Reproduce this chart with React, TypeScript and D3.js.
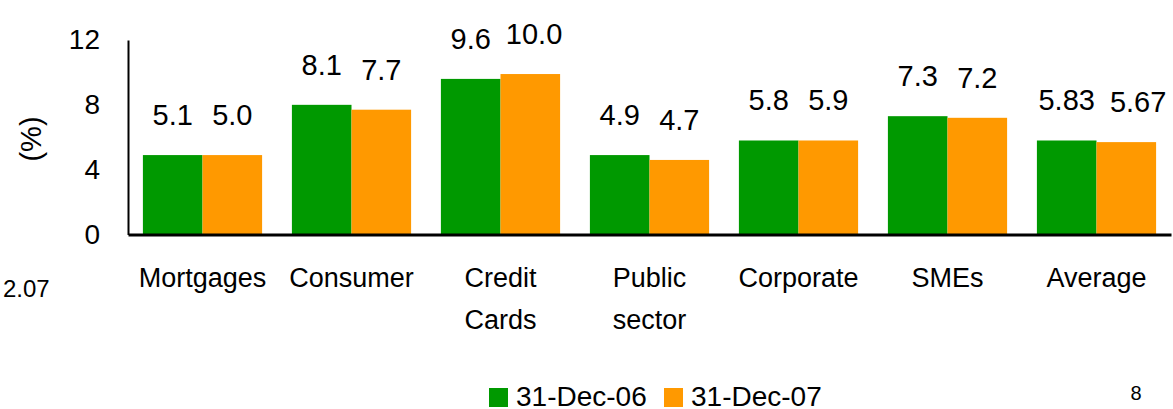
import React, { useEffect, useRef } from "react";
import * as d3 from "d3";

const width = 1173;
const height = 409;
const margin = { top: 40, right: 2, bottom: 174, left: 128 };
const green = "#009900";
const orange = "#ff9900";
const font = "'Liberation Sans', Arial, sans-serif";

// categories (multi-line labels split on \n)
const categories = [
  "Mortgages",
  "Consumer",
  "Credit\nCards",
  "Public\nsector",
  "Corporate",
  "SMEs",
  "Average",
];
// bar heights as drawn
const dec06 = [4.9, 8.0, 9.6, 4.9, 5.8, 7.3, 5.8];
const dec07 = [4.9, 7.7, 9.9, 4.6, 5.8, 7.2, 5.7];
// printed value labels
const dec06Labels = ["5.1", "8.1", "9.6", "4.9", "5.8", "7.3", "5.83"];
const dec07Labels = ["5.0", "7.7", "10.0", "4.7", "5.9", "7.2", "5.67"];
const seriesNames = ["31-Dec-06", "31-Dec-07"];
const yTicks = [0, 4, 8, 12];

export default function App() {
  const ref = useRef<SVGSVGElement>(null);

  useEffect(() => {
    const svg = d3.select(ref.current);
    svg.selectAll("*").remove();

    const x = d3
      .scaleBand()
      .domain(categories)
      .range([margin.left, width - margin.right])
      .paddingInner(0.2)
      .paddingOuter(0.1);
    const x1 = d3
      .scaleBand()
      .domain(["a", "b"])
      .range([0, x.bandwidth()]);
    const y = d3
      .scaleLinear()
      .domain([0, 12])
      .range([height - margin.bottom - 0.5, margin.top]);

    const series = [
      { key: "a", values: dec06, labels: dec06Labels, color: green },
      { key: "b", values: dec07, labels: dec07Labels, color: orange },
    ];

    // bars + value labels
    const labelGroups = series.map((s) => {
      svg
        .append("g")
        .selectAll("rect")
        .data(categories)
        .join("rect")
        .attr("x", (c) => x(c)! + x1(s.key)!)
        .attr("y", (c, i) => y(s.values[i]))
        .attr("width", x1.bandwidth())
        .attr("height", (c, i) => y(0) - y(s.values[i]))
        .attr("fill", s.color);

      return svg
        .append("g")
        .selectAll("text")
        .data(categories)
        .join("text")
        .attr("x", (c) => x(c)! + x1(s.key)! + x1.bandwidth() / 2)
        .attr("y", (c, i) => y(s.values[i]) - 30)
        .attr("text-anchor", "middle")
        .attr("font-family", font)
        .attr("font-size", 29)
        .text((c, i) => s.labels[i]);
    });

    // nudge the second label right when the pair would collide
    const left = labelGroups[0].nodes() as SVGTextElement[];
    const right = labelGroups[1].nodes() as SVGTextElement[];
    left.forEach((a, i) => {
      const b = right[i];
      const ba = a.getBBox();
      const bb = b.getBBox();
      const gap = bb.x - (ba.x + ba.width);
      if (gap < 15) {
        b.setAttribute("x", String(+b.getAttribute("x")! + (15 - gap)));
      }
    });

    // y axis
    const yAxis = svg
      .append("g")
      .attr("transform", `translate(${margin.left},0)`)
      .call(
        d3
          .axisLeft(y)
          .tickValues(yTicks)
          .tickSize(0)
          .tickPadding(28)
          .tickFormat((d) => `${d}`)
      );
    yAxis.select(".domain").attr("stroke", "#000").attr("stroke-width", 2);
    yAxis
      .selectAll("text")
      .attr("font-family", font)
      .attr("font-size", 28)
      .attr("fill", "#000");

    // x axis baseline
    const xAxis = svg
      .append("g")
      .attr("transform", `translate(0,${y(0)})`)
      .call(d3.axisBottom(x).tickSize(0).tickFormat(() => ""));
    xAxis.select(".domain").attr("stroke", "#000").attr("stroke-width", 3);

    // category labels
    const cat = svg
      .append("g")
      .selectAll("text")
      .data(categories)
      .join("text")
      .attr("x", (c) => x(c)! + x.bandwidth() / 2)
      .attr("y", 287)
      .attr("text-anchor", "middle")
      .attr("font-family", font)
      .attr("font-size", 27);
    cat
      .selectAll("tspan")
      .data((c) => c.split("\n").map((t) => ({ t, c })))
      .join("tspan")
      .attr("x", (d) => x(d.c)! + x.bandwidth() / 2)
      .attr("dy", (d, i) => (i === 0 ? 0 : 42))
      .text((d) => d.t);

    // y title
    svg
      .append("text")
      .attr("transform", "translate(41,139) rotate(-90)")
      .attr("text-anchor", "middle")
      .attr("font-family", font)
      .attr("font-size", 29)
      .text("(%)");

    // legend
    const legend = svg
      .append("g")
      .selectAll("g")
      .data(seriesNames)
      .join("g")
      .attr("transform", (d, i) => `translate(${489 + i * 175},388)`);
    legend
      .append("rect")
      .attr("width", 19)
      .attr("height", 19)
      .attr("fill", (d, i) => series[i].color);
    legend
      .append("text")
      .attr("x", 27)
      .attr("y", 18)
      .attr("font-family", font)
      .attr("font-size", 28)
      .text((d) => d);

    // stray slide texts
    svg
      .append("text")
      .attr("x", 3)
      .attr("y", 297)
      .attr("font-family", font)
      .attr("font-size", 24)
      .text("2.07");
    svg
      .append("text")
      .attr("x", 1136)
      .attr("y", 400)
      .attr("text-anchor", "middle")
      .attr("font-family", font)
      .attr("font-size", 20)
      .text("8");
  }, []);

  return (
    <svg
      ref={ref}
      width={width}
      height={height}
      style={{ position: "absolute", left: 0, top: 0, background: "#fff" }}
    />
  );
}
